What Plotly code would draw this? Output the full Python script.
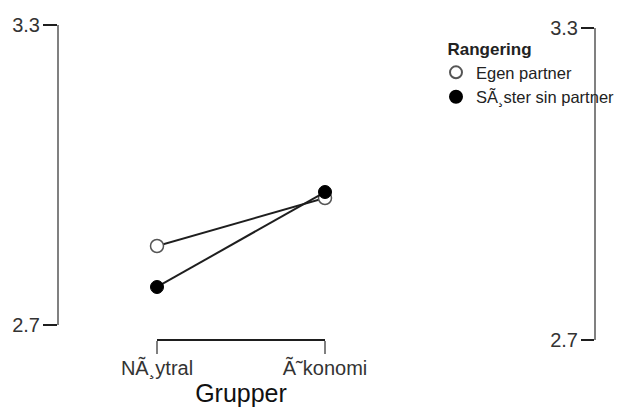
import plotly.graph_objects as go

categories = ["NÃ¸ytral", "Ã˜konomi"]
series_names = ["Egen partner", "SÃ¸ster sin partner"]
egen_values = [2.858, 2.954]
soster_values = [2.776, 2.966]
y_ticks = [2.7, 3.3]
x_title = "Grupper"
legend_title = "Rangering"

# page body has an 8px default margin, so the figure is laid out 8px in
OFF = 8
W, H = 680, 408 - OFF          # wider than the window so the legend never pushes margins
ml = 58 - OFF
mt = 25 - OFF
right_axis_px = 595 - OFF
xline_px = 340 - OFF
mr = W - right_axis_px
mb = H - xline_px
pw = W - ml - mr
ph = H - mt - mb
x0_px, x1_px = 157 - OFF, 325 - OFF
y_bottom_px = 325 - OFF
y2_top_px = 28 - OFF
leg_x_px, leg_y_px = 436 - OFF, 33 - OFF

font = "Liberation Sans, Arial, sans-serif"
dark = "#1e1e1e"
grey = "#808080"

fig = go.Figure()
fig.add_trace(go.Scatter(
    x=[0, 1], y=egen_values, mode="lines+markers", name=series_names[0],
    line=dict(color=dark, width=2),
    marker=dict(symbol="circle", size=13, color="white", line=dict(color="#555555", width=1.5)),
    cliponaxis=False, showlegend=False,
))
fig.add_trace(go.Scatter(
    x=[0, 1], y=soster_values, mode="lines+markers", name=series_names[1],
    line=dict(color=dark, width=2),
    marker=dict(symbol="circle", size=13, color="black", line=dict(color="black", width=1)),
    cliponaxis=False, showlegend=False,
))
# legend-only entries (markers without lines)
fig.add_trace(go.Scatter(
    x=[None], y=[None], mode="markers", name=series_names[0],
    marker=dict(symbol="circle", size=11, color="white", line=dict(color="#555555", width=1.5)),
))
fig.add_trace(go.Scatter(
    x=[None], y=[None], mode="markers", name=series_names[1],
    marker=dict(symbol="circle", size=11, color="black", line=dict(color="black", width=1)),
))
fig.add_trace(go.Scatter(x=[], y=[], yaxis="y2", showlegend=False, hoverinfo="skip"))

fig.update_layout(
    width=W, height=H,
    margin=dict(l=ml, r=mr, t=mt, b=mb, pad=0),
    paper_bgcolor="white", plot_bgcolor="rgba(0,0,0,0)",
    font=dict(family=font, color="#333333", size=16),
    showlegend=True,
    legend=dict(
        title=dict(text="\u00a0\u00a0<b>" + legend_title + "</b>", font=dict(size=17, color="#222222")),
        x=(leg_x_px - ml) / pw, y=1 - (leg_y_px - mt) / ph, xanchor="left", yanchor="top",
        font=dict(size=16.5, color="#222222"), bgcolor="rgba(0,0,0,0)",
        itemsizing="constant", tracegroupgap=0,
    ),
    xaxis=dict(
        domain=[(x0_px - ml) / pw, (x1_px - ml) / pw],
        range=[0, 1], tickvals=[0, 1], ticktext=categories,
        anchor="free", position=0, automargin=False,
        showline=True, linecolor=dark, linewidth=2,
        ticks="outside", ticklen=13, tickwidth=2, tickcolor=grey,
        showgrid=False, zeroline=False, ticklabelstandoff=-3,
        tickfont=dict(size=20, color="#333333"),
        title=dict(text=x_title, font=dict(size=25, color="#111111"), standoff=4),
    ),
    yaxis=dict(
        domain=[(mt + ph - y_bottom_px) / ph, 1],
        range=[y_ticks[0], y_ticks[1]], tickvals=y_ticks,
        anchor="free", position=0, automargin=False,
        showline=True, linecolor=grey, linewidth=2,
        ticks="outside", ticklen=14, tickwidth=2, tickcolor=dark,
        showgrid=False, zeroline=False, ticklabelstandoff=-1,
        tickfont=dict(size=20, color="#333333"),
    ),
    yaxis2=dict(
        domain=[0, 1 - (y2_top_px - mt) / ph],
        range=[y_ticks[0], y_ticks[1]], tickvals=y_ticks,
        anchor="free", position=1, side="left", automargin=False,
        showline=True, linecolor=grey, linewidth=2,
        ticks="outside", ticklen=13, tickwidth=2, tickcolor=dark,
        showgrid=False, zeroline=False, ticklabelstandoff=-1,
        tickfont=dict(size=20, color="#333333"),
    ),
)

fig.write_html("out.html")
